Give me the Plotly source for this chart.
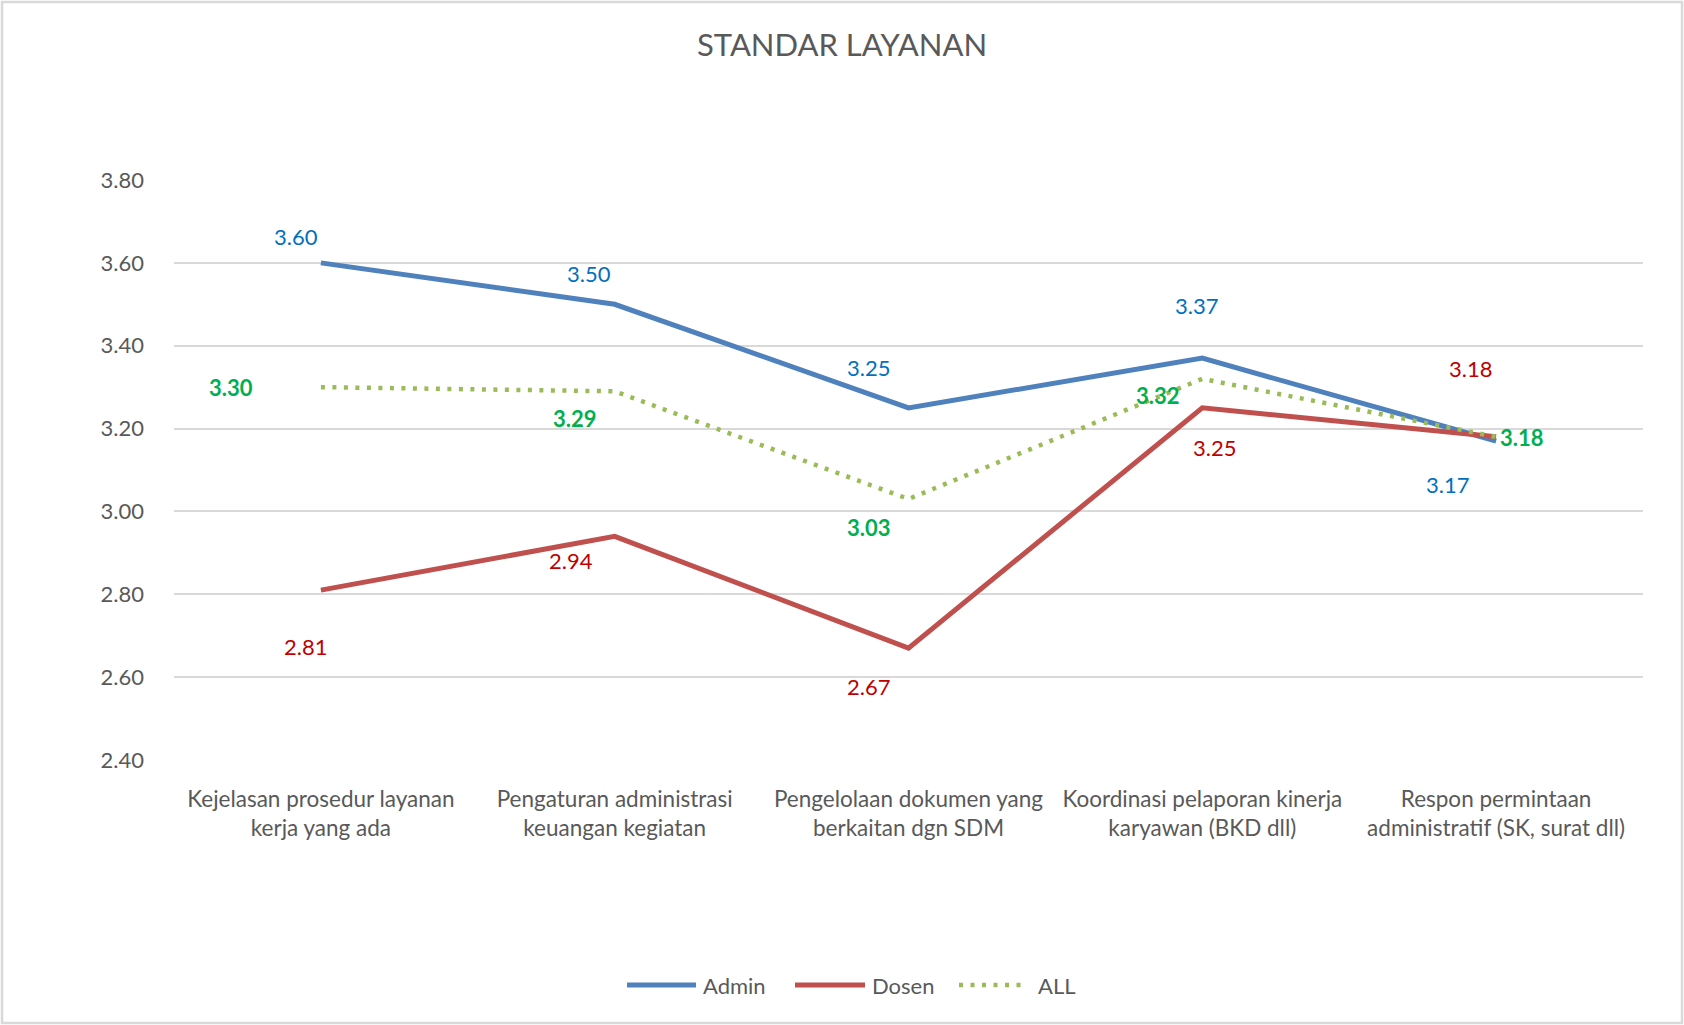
import plotly.graph_objects as go

# ---- data ----
categories = [
    "Kejelasan prosedur layanan<br>kerja yang ada",
    "Pengaturan administrasi<br>keuangan kegiatan",
    "Pengelolaan dokumen yang<br>berkaitan dgn SDM",
    "Koordinasi pelaporan kinerja<br>karyawan (BKD dll)",
    "Respon permintaan<br>administratif (SK, surat dll)",
]
series_names = ["Admin", "Dosen", "ALL"]
admin = [3.60, 3.50, 3.25, 3.37, 3.17]
dosen = [2.81, 2.94, 2.67, 3.25, 3.18]
all_ = [3.30, 3.29, 3.03, 3.32, 3.18]
y_ticks = [2.40, 2.60, 2.80, 3.00, 3.20, 3.40, 3.60, 3.80]

# ---- label offsets (pixels) ----
admin_off = [(-25, 26), (-26, 31), (-40, 40), (-6, 53), (-49, -43)]
dosen_off = [(-15, -56), (-44, -24), (-40, -38), (12, -40), (-26, 68)]
all_off = [(-90, 0), (-40, -27), (-40, -28), (-44, -17), (26, -1)]

FONT = "Lato"
W, H = 1684, 1025
L, R, T, B = 174, 41, 180, 265
PH = H - T - B
PW = W - L - R

def px_x(px):
    return (px - L) / PW

def px_y(py):
    return ((H - B) - py) / PH

colors = ["#4F81BD", "#C0504D", "#9BBB59"]
dashes = ["solid", "solid", "4px,7.5px"]
widths = [5, 5, 4.5]

fig = go.Figure()
for name, vals, col, dsh, wd in zip(series_names, [admin, dosen, all_], colors, dashes, widths):
    fig.add_trace(go.Scatter(x=categories, y=vals, mode="lines", name=name,
                             line=dict(color=col, width=wd, dash=dsh),
                             showlegend=False))

annotations = []
def add_labels(vals, offs, color, bold=False):
    for c, v, (dx, dy) in zip(categories, vals, offs):
        txt = f"{v:.2f}"
        if bold:
            txt = f"<b>{txt}</b>"
        annotations.append(dict(x=c, y=v, xref="x", yref="y", text=txt,
                                showarrow=False, xshift=dx, yshift=dy,
                                xanchor="center", yanchor="middle",
                                font=dict(family=FONT, size=22, color=color)))

add_labels(admin, admin_off, "#0070C0")
add_labels(dosen, dosen_off, "#C00000")
add_labels(all_, all_off, "#00B050", bold=True)

# ---- custom legend (line swatches + text) ----
legend_y = 985
legend_items = [(627, 696, 701), (795, 865, 870), (959, 1026, 1036)]
shapes = [dict(type="rect", xref="paper", yref="paper",
               x0=px_x(2), x1=px_x(W - 2), y0=px_y(H - 2), y1=px_y(2),
               line=dict(color="#D9D9D9", width=2.5), layer="below")]
for (x0, x1, xt), name, col, dsh, wd in zip(legend_items, series_names, colors, dashes, widths):
    shapes.append(dict(type="line", xref="paper", yref="paper",
                       x0=px_x(x0), x1=px_x(x1), y0=px_y(legend_y), y1=px_y(legend_y),
                       line=dict(color=col, width=wd, dash=dsh)))
    annotations.append(dict(x=px_x(xt), y=px_y(legend_y), xref="paper", yref="paper",
                            text=name, showarrow=False, xanchor="left", yanchor="middle",
                            font=dict(family=FONT, size=22, color="#595959")))

fig.update_layout(
    width=W, height=H,
    margin=dict(l=L, r=R, t=T, b=B, pad=0),
    paper_bgcolor="white", plot_bgcolor="white",
    font=dict(family=FONT, color="#595959", size=22),
    title=dict(text="STANDAR LAYANAN", x=0.5, xanchor="center",
               y=1 - 45 / H, yanchor="middle", yref="container",
               font=dict(family=FONT, size=31, color="#595959")),
    showlegend=False,
    annotations=annotations,
    shapes=shapes,
)

fig.update_xaxes(type="category", range=[-0.5, 4.5], showgrid=False,
                 showline=False, zeroline=False, ticks="",
                 tickfont=dict(family=FONT, size=22.5, color="#595959"),
                 ticklabelstandoff=23)
fig.update_yaxes(range=[2.4, 3.8], tickvals=y_ticks,
                 ticktext=[f"{v:.2f}" for v in y_ticks],
                 showgrid=True, gridcolor="#D9D9D9", gridwidth=1.5,
                 zeroline=False, showline=False, ticks="",
                 tickfont=dict(family=FONT, size=22, color="#595959"),
                 ticklabelstandoff=29)

fig.write_html("out.html", config={"displayModeBar": False},
               post_script="document.body.style.margin='0';document.body.style.overflow='hidden';")
